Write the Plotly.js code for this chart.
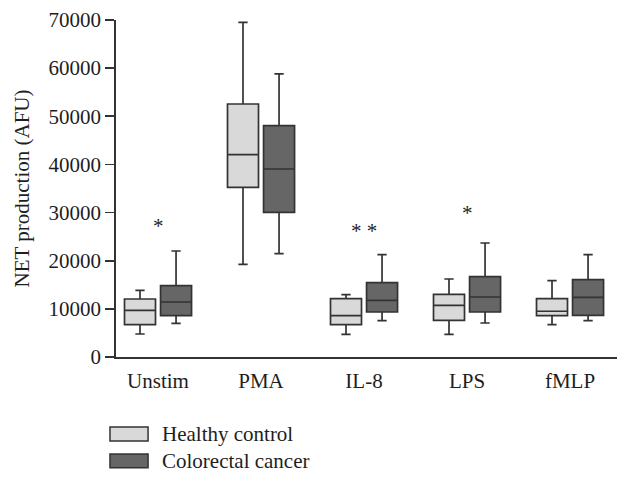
<!DOCTYPE html>
<html>
<head>
<meta charset="utf-8">
<script src="https://cdn.plot.ly/plotly-3.0.1.min.js"></script>
<style>html,body{margin:0;padding:0;background:#fff;}#chart{width:632px;height:482px;}</style>
</head>
<body>
<div id="chart"></div>
<script>
const categories = ['Unstim', 'PMA', 'IL-8', 'LPS', 'fMLP'];
const positions = [0, 1, 2, 3, 4];
const seriesNames = ['Healthy control', 'Colorectal cancer'];

const healthyLower  = [4780, 19240, 4700, 4700, 6710];
const healthyQ1     = [6710, 35230, 6710, 7610, 8580];
const healthyMedian = [9680, 42020, 8580, 10730, 9500];
const healthyQ3     = [12050, 52550, 12110, 13010, 12110];
const healthyUpper  = [13830, 69500, 12940, 16200, 15850];

const cancerLower  = [6980, 21460, 7540, 7060, 7540];
const cancerQ1     = [8580, 30040, 9350, 9350, 8640];
const cancerMedian = [11420, 39050, 11760, 12460, 12380];
const cancerQ3     = [14810, 48050, 15430, 16680, 16060];
const cancerUpper  = [22020, 58790, 21250, 23680, 21250];

const sigLabels = ['*', '', '*&nbsp;*', '*', ''];
const sigHeights = [27300, 0, 26200, 29900, 0];

const yTicks = [0, 10000, 20000, 30000, 40000, 50000, 60000, 70000];

const FONT = 'Liberation Serif, Times New Roman, serif';
const FS = 21;
const lineCol = '#333333';
const textCol = '#1e1e1e';
const fills = ['#d9d9d9', '#666666'];

function boxTrace(name, lo, q1, med, q3, hi, fill) {
  return {
    type: 'box', name: name, x: positions,
    lowerfence: lo, q1: q1, median: med, q3: q3, upperfence: hi,
    fillcolor: fill, line: {color: lineCol, width: 1.7},
    whiskerwidth: 0.3, boxpoints: false, showlegend: false, hoverinfo: 'skip'
  };
}

const traces = [
  boxTrace(seriesNames[0], healthyLower, healthyQ1, healthyMedian, healthyQ3, healthyUpper, fills[0]),
  boxTrace(seriesNames[1], cancerLower, cancerQ1, cancerMedian, cancerQ3, cancerUpper, fills[1])
];

const annotations = [];
sigLabels.forEach((s, i) => {
  if (s) annotations.push({x: positions[i], y: sigHeights[i], xref: 'x', yref: 'y', text: s,
    showarrow: false, font: {family: FONT, size: FS, color: textCol}});
});

// legend (manual)
const legendY = [[-0.208, -0.249], [-0.288, -0.329]];
const shapes = [];
seriesNames.forEach((n, i) => {
  shapes.push({type: 'rect', xref: 'paper', yref: 'paper', x0: -0.012, x1: 0.064,
    y0: legendY[i][0], y1: legendY[i][1], fillcolor: fills[i], line: {color: lineCol, width: 1.5}});
  annotations.push({xref: 'paper', yref: 'paper', x: 0.088, y: (legendY[i][0] + legendY[i][1]) / 2,
    xanchor: 'left', yanchor: 'middle', text: n, showarrow: false,
    font: {family: FONT, size: FS, color: textCol}});
});

const layout = {
  width: 632, height: 482,
  margin: {l: 116, r: 15, t: 20, b: 125},
  paper_bgcolor: '#fff', plot_bgcolor: '#fff',
  boxmode: 'group', boxgap: 0.3, boxgroupgap: 0.14,
  font: {family: FONT, size: FS, color: textCol},
  showlegend: false,
  xaxis: {
    range: [-0.408, 4.456], tickvals: positions, ticktext: categories,
    showgrid: false, zeroline: false, showline: true, linecolor: lineCol, linewidth: 1.8,
    ticks: 'outside', ticklen: 4, tickcolor: 'rgba(0,0,0,0)',
    tickfont: {family: FONT, size: FS, color: textCol}
  },
  yaxis: {
    range: [0, 70000], tickvals: yTicks, ticktext: yTicks.map(String),
    showgrid: false, zeroline: false, showline: true, linecolor: lineCol, linewidth: 1.8,
    ticks: 'outside', ticklen: 9, tickwidth: 1.8, tickcolor: lineCol,
    tickfont: {family: FONT, size: FS, color: textCol},
    title: {text: 'NET production (AFU)', font: {family: FONT, size: FS, color: textCol}, standoff: 13}
  },
  shapes: shapes,
  annotations: annotations
};

Plotly.newPlot('chart', traces, layout, {displayModeBar: false, staticPlot: true});
</script>
</body>
</html>
